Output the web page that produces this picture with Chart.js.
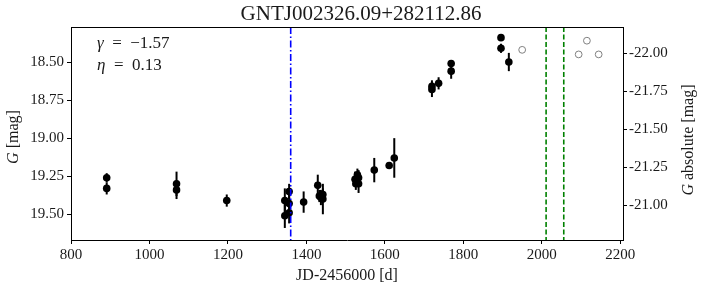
<!DOCTYPE html>
<html><head><meta charset="utf-8">
<script src="https://cdn.jsdelivr.net/npm/chart.js@4/dist/chart.umd.min.js"></script>
<style>html,body{margin:0;padding:0;background:#fff;}#wrap{width:709px;height:291px;}</style>
</head><body><div id="wrap"><canvas id="c" width="709" height="291"></canvas></div>
<script>
// ---- data ----
const jd     = [891, 891, 1069, 1069, 1197, 1345, 1345, 1356, 1356, 1356, 1393, 1429, 1433, 1437, 1442, 1442, 1524, 1526, 1530, 1533, 1533, 1573, 1611, 1624, 1720, 1720, 1737, 1769, 1769, 1896, 1896, 1916];
const mag    = [19.26, 19.33, 19.30, 19.34, 19.41, 19.41, 19.51, 19.35, 19.43, 19.49, 19.42, 19.31, 19.38, 19.39, 19.37, 19.40, 19.27, 19.30, 19.24, 19.26, 19.30, 19.21, 19.18, 19.13, 18.66, 18.68, 18.64, 18.51, 18.56, 18.34, 18.41, 18.50];
const magErr = [0.03, 0.04, 0.08, 0.06, 0.04, 0.08, 0.08, 0.05, 0.08, 0.07, 0.07, 0.07, 0.04, 0.05, 0.04, 0.10, 0.05, 0.04, 0.04, 0.05, 0.06, 0.08, 0.02, 0.13, 0.04, 0.05, 0.04, 0.02, 0.05, 0.02, 0.03, 0.06];
const jdOpen  = [1950, 2094, 2115, 2145];
const magOpen = [18.42, 18.45, 18.36, 18.45];
const blueLineJD  = [1360];
const greenLineJD = [2011, 2056];
const xTicks    = [800, 1000, 1200, 1400, 1600, 1800, 2000, 2200];
const yTicks    = [18.50, 18.75, 19.00, 19.25, 19.50];
const yAbsTicks = [-22.00, -21.75, -21.50, -21.25, -21.00];
const absOffset = 40.441;           // G - G_absolute
const xRange = [800, 2207];
const yRange = [18.27, 19.669];
const titleText = 'GNTJ002326.09+282112.86';
const gammaText = '−1.57';
const etaText = '0.13';

const FONT = "'Liberation Serif', 'DejaVu Serif', serif";
const TXT = '#1a1a1a';

function vline(x, color, dash) {
  return {
    type: 'line',
    data: [{x: x, y: yRange[0]}, {x: x, y: yRange[1]}],
    borderColor: color, borderWidth: 1.6, borderDash: dash,
    pointRadius: 0, fill: false, yAxisID: 'y'
  };
}

const datasets = [];
blueLineJD.forEach(x => datasets.push(vline(x, '#0000ff', [7, 2.5, 1.5, 2.5])));
greenLineJD.forEach(x => datasets.push(vline(x, '#008000', [5, 2.5])));
datasets.push({
  type: 'scatter', label: 'open',
  data: jdOpen.map((x, i) => ({x: x, y: magOpen[i]})),
  pointRadius: 3.4, pointBackgroundColor: '#ffffff', pointBorderColor: '#808080', pointBorderWidth: 1, yAxisID: 'y'
});
datasets.push({
  type: 'scatter', label: 'det',
  data: jd.map((x, i) => ({x: x, y: mag[i]})),
  pointRadius: 3.8, pointBackgroundColor: '#000000', pointBorderColor: '#000000', pointBorderWidth: 0, yAxisID: 'y'
});

const errPlugin = {
  id: 'errbars',
  beforeDatasetsDraw(chart) {
    const ctx = chart.ctx, xs = chart.scales.x, ys = chart.scales.y;
    ctx.save();
    ctx.strokeStyle = '#000'; ctx.lineWidth = 2;
    jd.forEach((x, i) => {
      const px = xs.getPixelForValue(x);
      ctx.beginPath();
      ctx.moveTo(px, ys.getPixelForValue(mag[i] - magErr[i]));
      ctx.lineTo(px, ys.getPixelForValue(mag[i] + magErr[i]));
      ctx.stroke();
    });
    ctx.restore();
  },
  afterDraw(chart) {
    const ctx = chart.ctx, a = chart.chartArea;
    ctx.save();
    // top spine
    ctx.strokeStyle = '#000'; ctx.lineWidth = 1;
    ctx.beginPath(); ctx.moveTo(a.left, a.top + 0.5); ctx.lineTo(a.right, a.top + 0.5); ctx.stroke();
    ctx.fillStyle = TXT;
    // title
    ctx.font = '21px ' + FONT; ctx.textAlign = 'center'; ctx.textBaseline = 'alphabetic';
    ctx.fillText(titleText, 361, 20);
    // annotations
    ctx.textAlign = 'left';
    function mixed(x, y, ital, rest, size) {
      ctx.font = 'italic ' + size + 'px ' + FONT;
      ctx.fillText(ital, x, y);
      const w = ctx.measureText(ital).width;
      ctx.font = size + 'px ' + FONT;
      ctx.fillText(rest, x + w, y);
    }
    mixed(97, 48, 'γ', '  =  ' + gammaText, 17);
    mixed(97, 70, 'η', '  =  ' + etaText, 17);
    // y axis titles (rotated, italic G)
    function rotTitle(cx, cy, ital, rest) {
      ctx.save();
      ctx.translate(cx, cy); ctx.rotate(-Math.PI / 2);
      ctx.font = 'italic 16px ' + FONT;
      const w1 = ctx.measureText(ital).width;
      ctx.font = '16px ' + FONT;
      const w2 = ctx.measureText(rest).width;
      const x0 = -(w1 + w2) / 2;
      ctx.textBaseline = 'middle';
      ctx.font = 'italic 16px ' + FONT; ctx.fillText(ital, x0, 0);
      ctx.font = '16px ' + FONT; ctx.fillText(rest, x0 + w1, 0);
      ctx.restore();
    }
    rotTitle(14, 137, 'G', ' [mag]');
    rotTitle(689, 140, 'G', ' absolute [mag]');
    ctx.restore();
  }
};

const tickFont = {family: FONT, size: 15};
new Chart(document.getElementById('c'), {
  type: 'scatter',
  data: {datasets: datasets},
  options: {
    responsive: false, animation: false, devicePixelRatio: 1,
    layout: {padding: {top: 27, left: 0, right: 0, bottom: 0}},
    plugins: {legend: {display: false}, tooltip: {enabled: false}, title: {display: false}},
    scales: {
      x: {
        type: 'linear', position: 'bottom', min: xRange[0], max: xRange[1],
        afterFit: s => { s.height = 51; },
        afterBuildTicks: s => { s.ticks = xTicks.map(v => ({value: v})); },
        ticks: {font: tickFont, color: TXT, padding: 2, maxRotation: 0, autoSkip: false, callback: v => String(v)},
        grid: {display: true, drawOnChartArea: false, drawTicks: true, tickLength: 4, color: '#000'},
        border: {display: true, color: '#000', width: 1},
        title: {display: true, text: 'JD-2456000 [d]', font: {family: FONT, size: 16}, color: TXT, padding: {top: 0, bottom: 6}}
      },
      y: {
        type: 'linear', position: 'left', reverse: true, min: yRange[0], max: yRange[1],
        afterFit: s => { s.width = 71; },
        afterBuildTicks: s => { s.ticks = yTicks.map(v => ({value: v})); },
        ticks: {font: tickFont, color: TXT, padding: 3, callback: v => Number(v).toFixed(2)},
        grid: {display: true, drawOnChartArea: false, drawTicks: true, tickLength: 4, color: '#000'},
        border: {display: true, color: '#000', width: 1}
      },
      y1: {
        type: 'linear', position: 'right', reverse: true,
        min: yRange[0] - absOffset, max: yRange[1] - absOffset,
        afterFit: s => { s.width = 86; },
        afterBuildTicks: s => { s.ticks = yAbsTicks.map(v => ({value: v})); },
        ticks: {font: tickFont, color: TXT, padding: 2, callback: v => Number(v).toFixed(2)},
        grid: {display: true, drawOnChartArea: false, drawTicks: true, tickLength: 4, color: '#000'},
        border: {display: true, color: '#000', width: 1}
      }
    }
  },
  plugins: [errPlugin]
});
</script>
</body></html>
